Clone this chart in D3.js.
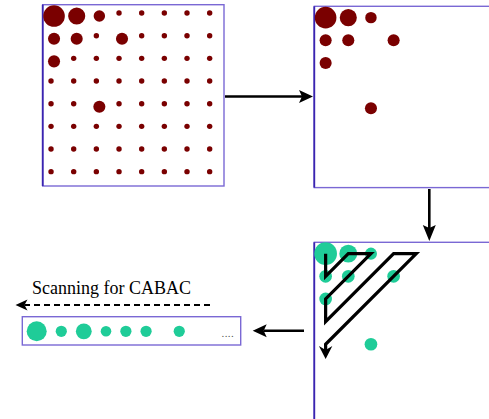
<!DOCTYPE html>
<html>
<head>
<meta charset="utf-8">
<script src="https://cdn.jsdelivr.net/npm/d3@7"></script>
<style>
  body { margin: 0; background: #fff; }
  svg { display: block; }
</style>
</head>
<body>
<div class="chart"></div>
<script>
// 8x8 block, non-zero coefficients (column, row, magnitude)
const gridSize = 8;
const coeffCol = [0, 1, 2, 0, 1, 3, 0, 2];
const coeffRow = [0, 0, 0, 1, 1, 1, 2, 4];
const coeffMag = [16, 10, 4.5, 5, 5, 5, 5, 5];
const zeroMag = 1;

// zigzag scan path through cells (column, row)
const scanCol = [0, 0, 1, 2, 0, 0, 3, 4, 0, 0];
const scanRow = [0, 1, 0, 0, 2, 3, 0, 0, 4, 4.65];

// scanned coefficient list (magnitudes, and whether a run of zeros comes before)
const listMag = [16, 5, 10, 4.5, 5, 5, 5];
const listSkip = [0, 0, 0, 0, 0, 0, 1];

const label = 'Scanning for CABAC';

const width = 489;
const height = 419;
const panelSize = 181.3;
const red = '#7a0000';
const green = '#1fcc98';

const svg = d3
  .select('.chart')
  .append('svg')
  .attr('width', width)
  .attr('height', height);

const cellScale = d3.scaleBand().domain(d3.range(gridSize)).range([0, panelSize]);
const pos = (i) => cellScale.bandwidth() * (i + 0.5);
const radiusScale = d3.scaleSqrt().domain([0, 16]).range([0, 10.8]);
const listRadius = d3.scaleSqrt().domain([0, 16]).range([0, 10]);

const coeffs = coeffCol.map((c, i) => ({ col: c, row: coeffRow[i], mag: coeffMag[i] }));
const zeros = [];
d3.range(gridSize).forEach((r) => {
  d3.range(gridSize).forEach((c) => {
    if (!coeffs.some((d) => d.col === c && d.row === r)) zeros.push({ col: c, row: r, mag: zeroMag });
  });
});

function panel(x, y) {
  const g = svg.append('g').attr('transform', `translate(${x},${y})`);
  g.append('rect')
    .attr('width', panelSize)
    .attr('height', panelSize)
    .attr('fill', 'none')
    .attr('stroke', '#7a68d4')
    .attr('stroke-width', 1.4);
  g.append('line')
    .attr('x1', 0).attr('y1', 0)
    .attr('x2', 0).attr('y2', panelSize)
    .attr('stroke', '#3a24b0')
    .attr('stroke-width', 1.8);
  return g;
}

// arrow with a barbed filled head
function arrow(x1, y1, x2, y2, opts = {}) {
  const len = opts.len || 14;
  const half = opts.half || 6.5;
  const notch = opts.notch || 3;
  const sw = opts.width || 2.6;
  const dx = x2 - x1, dy = y2 - y1;
  const d = Math.hypot(dx, dy);
  const ux = dx / d, uy = dy / d;
  const bx = x2 - ux * len, by = y2 - uy * len;
  svg.append('line')
    .attr('x1', x1).attr('y1', y1)
    .attr('x2', x2 - ux * (len - notch)).attr('y2', y2 - uy * (len - notch))
    .attr('stroke', '#000')
    .attr('stroke-width', sw)
    .attr('stroke-dasharray', opts.dash || null);
  svg.append('path')
    .attr('d', d3.line()([
      [x2, y2],
      [bx - uy * half, by + ux * half],
      [bx + ux * notch, by + uy * notch],
      [bx + uy * half, by - ux * half]
    ]) + 'Z')
    .attr('fill', '#000');
}

// Panel 1: full block
const p1 = panel(42.7, 4.7);
p1.selectAll('circle.zero')
  .data(zeros)
  .join('circle')
  .attr('class', 'zero')
  .attr('cx', (d) => pos(d.col) - 3)
  .attr('cy', (d) => pos(d.row) - 3)
  .attr('r', (d) => radiusScale(d.mag))
  .attr('fill', red);
p1.selectAll('circle.coef')
  .data(coeffs)
  .join('circle')
  .attr('class', 'coef')
  .attr('cx', (d) => pos(d.col))
  .attr('cy', (d) => pos(d.row))
  .attr('r', (d) => radiusScale(d.mag))
  .attr('fill', red);

// Panel 2: non-zero only
const p2 = panel(314.3, 6.3);
p2.selectAll('circle')
  .data(coeffs)
  .join('circle')
  .attr('cx', (d) => pos(d.col))
  .attr('cy', (d) => pos(d.row))
  .attr('r', (d) => radiusScale(d.mag))
  .attr('fill', red);

// Panel 3: zigzag scan
const p3 = panel(314.3, 242.3);
p3.selectAll('circle')
  .data(coeffs)
  .join('circle')
  .attr('cx', (d) => pos(d.col))
  .attr('cy', (d) => pos(d.row))
  .attr('r', (d) => radiusScale(d.mag) * 1.05)
  .attr('fill', green);

const scanPts = scanCol.map((c, i) => [pos(c), pos(scanRow[i])]);
const last = scanPts[scanPts.length - 1];
p3.append('path')
  .attr('d', d3.line()(scanPts.slice(0, -1).concat([[last[0], last[1] - 9]])))
  .attr('fill', 'none')
  .attr('stroke', '#000')
  .attr('stroke-width', 3.2)
  .attr('stroke-linejoin', 'miter');
p3.append('path')
  .attr('d', d3.line()([
    [last[0], last[1]],
    [last[0] - 6.7, last[1] - 13],
    [last[0], last[1] - 9],
    [last[0] + 6.7, last[1] - 13]
  ]) + 'Z')
  .attr('fill', '#000');

// arrows between panels
arrow(225, 96.5, 313, 96.5);
arrow(429.3, 189, 429.3, 241, { len: 16 });
arrow(304, 330.7, 252.7, 330.7);
arrow(210, 305, 15.5, 305, { len: 12, half: 5.5, width: 1.8, dash: '6,4' });

svg.append('text')
  .attr('x', 32)
  .attr('y', 293.5)
  .attr('font-family', 'Liberation Serif, Times New Roman, serif')
  .attr('font-size', 18)
  .attr('fill', '#000')
  .text(label);

// scanned list
svg.append('rect')
  .attr('x', 22.3)
  .attr('y', 316.7)
  .attr('width', 218.4)
  .attr('height', 28.3)
  .attr('fill', 'none')
  .attr('stroke', '#7a68d4')
  .attr('stroke-width', 1.4);

let cx = 36.7;
const listData = listMag.map((m, i) => {
  if (i > 0) cx += listRadius(listMag[i - 1]) + listRadius(m) + 9 + listSkip[i] * 13;
  return { mag: m, x: cx };
});
svg.selectAll('circle.list')
  .data(listData)
  .join('circle')
  .attr('class', 'list')
  .attr('cx', (d) => d.x)
  .attr('cy', 331.3)
  .attr('r', (d) => listRadius(d.mag))
  .attr('fill', green);

svg.append('text')
  .attr('x', 221.5)
  .attr('y', 337)
  .attr('font-family', 'Liberation Serif, serif')
  .attr('font-size', 11)
  .attr('fill', '#555')
  .attr('letter-spacing', 0.4)
  .text('....');
</script>
</body>
</html>
